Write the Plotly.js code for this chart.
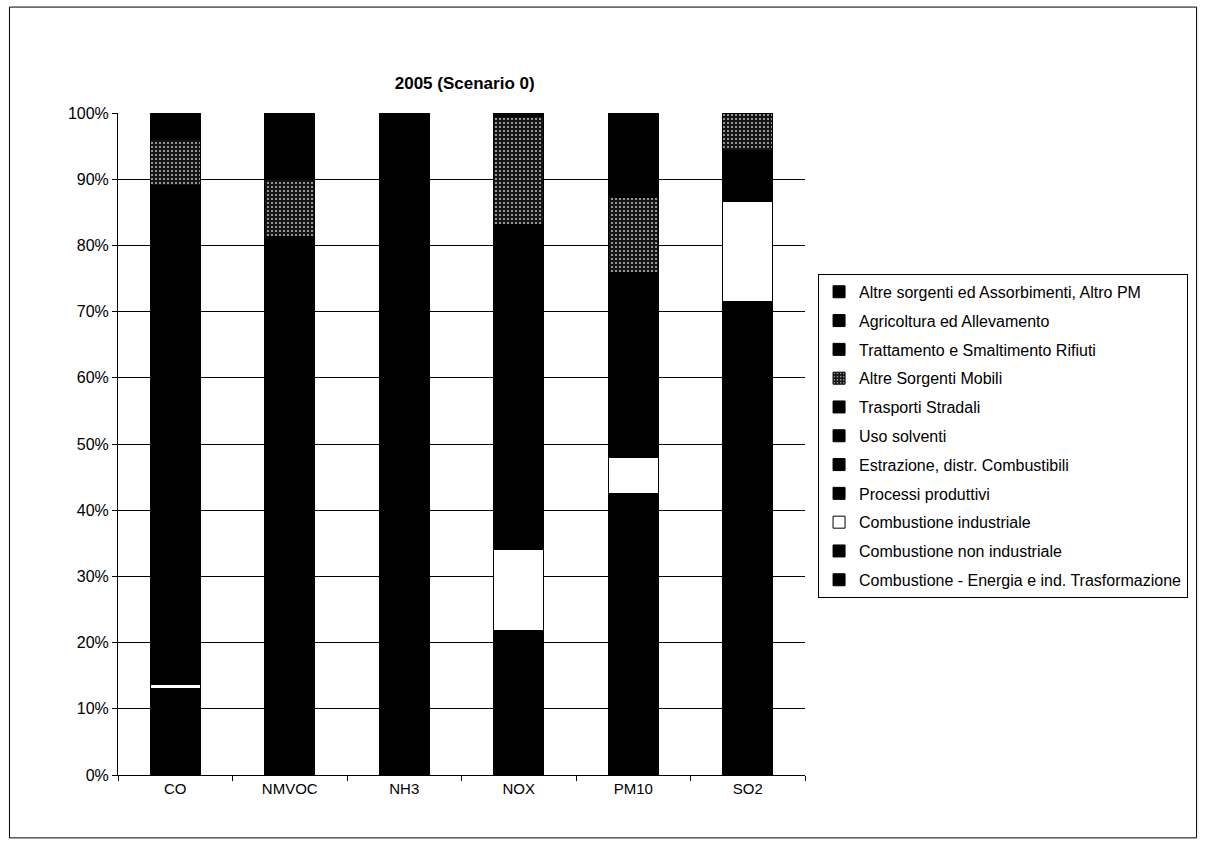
<!DOCTYPE html>
<html>
<head>
<meta charset="utf-8">
<script src="https://cdn.plot.ly/plotly-3.0.1.min.js"></script>
<style>
html,body{margin:0;padding:0;background:#fff;}
#chart{width:1207px;height:843px;}
</style>
</head>
<body>
<div id="chart"></div>
<script>
// Categories (pollutants)
const categories = ["CO", "NMVOC", "NH3", "NOX", "PM10", "SO2"];

// Series values (% share per pollutant), bottom to top of the stack
const energia      = [1.0,  0.5, 0.1, 13.0,  5.0, 65.0];  // Combustione - Energia e ind. Trasformazione
const nonInd       = [12.0, 5.3, 0.6,  8.8, 37.5,  6.5];  // Combustione non industriale
const industriale  = [0.6,  0.0, 0.0, 12.3,  5.4, 15.1];  // Combustione industriale
const processi     = [5.0,  4.0, 0.5,  2.0,  8.0,  7.4];  // Processi produttivi
const estrazione   = [0.0,  3.0, 0.0,  0.0,  0.2,  0.0];  // Estrazione, distr. Combustibili
const solventi     = [0.0, 40.0, 0.0,  0.0,  0.3,  0.0];  // Uso solventi
const stradali     = [70.4,28.5, 4.0, 47.0, 19.5,  0.4];  // Trasporti Stradali
const altreMobili  = [7.0,  8.6, 0.0, 16.4, 11.3,  5.6];  // Altre Sorgenti Mobili
const rifiuti      = [1.0,  0.5, 0.5,  0.2,  1.0,  0.0];  // Trattamento e Smaltimento Rifiuti
const agricoltura  = [0.5,  0.2,94.0,  0.1,  6.0,  0.0];  // Agricoltura ed Allevamento
const altre        = [2.5,  9.4, 0.3,  0.2,  5.8,  0.0];  // Altre sorgenti ed Assorbimenti, Altro PM

const seriesNames = [
  "Combustione - Energia e ind. Trasformazione",
  "Combustione non industriale",
  "Combustione industriale",
  "Processi produttivi",
  "Estrazione, distr. Combustibili",
  "Uso solventi",
  "Trasporti Stradali",
  "Altre Sorgenti Mobili",
  "Trattamento e Smaltimento Rifiuti",
  "Agricoltura ed Allevamento",
  "Altre sorgenti ed Assorbimenti, Altro PM"
];
const seriesValues = [energia, nonInd, industriale, processi, estrazione, solventi,
                      stradali, altreMobili, rifiuti, agricoltura, altre];

const traces = seriesNames.map((name, i) => {
  const marker = {color: "#000", line: {color: "#000", width: 1}};
  if (name === "Combustione industriale") {
    marker.color = "#fff";
  }
  if (name === "Altre Sorgenti Mobili") {
    marker.color = "#1a1a1a";
    marker.pattern = {shape: ".", bgcolor: "#151515", fgcolor: "#bdbdbd", size: 4, solidity: 0.2};
  }
  return {
    type: "bar",
    name: name,
    x: categories,
    y: seriesValues[i],
    marker: marker,
    legendgroup: "g" + i,
    legendrank: 100 - i,
    hoverinfo: "name+y"
  };
});

const layout = {
  width: 1207,
  height: 843,
  barmode: "stack",
  barnorm: "percent",
  bargap: 0.565,
  paper_bgcolor: "#fff",
  plot_bgcolor: "#fff",
  font: {family: "Liberation Sans, Arial, sans-serif", color: "#000", size: 15},
  margin: {l: 118, r: 402, t: 113, b: 68},
  title: {
    text: "<b>2005 (Scenario 0)</b>",
    font: {size: 17, family: "Liberation Sans, Arial, sans-serif", color: "#000"},
    x: 0.385, xanchor: "center",
    y: 0.902, yanchor: "middle"
  },
  xaxis: {
    type: "category",
    showline: true, linecolor: "#000", linewidth: 1,
    ticks: "outside", tickson: "boundaries", ticklen: 5, tickcolor: "#000",
    tickfont: {size: 15},
    showgrid: false,
    zeroline: false
  },
  yaxis: {
    range: [0, 100],
    dtick: 10,
    ticksuffix: "%",
    showline: true, linecolor: "#000", linewidth: 1,
    ticks: "outside", ticklen: 5, tickcolor: "#000",
    showgrid: true, gridcolor: "#000", gridwidth: 1,
    zeroline: false,
    tickfont: {size: 16}
  },
  legend: {
    x: 1.019, xanchor: "left",
    y: 0.757, yanchor: "top",
    traceorder: "grouped",
    tracegroupgap: 5,
    bordercolor: "#000", borderwidth: 1,
    bgcolor: "#fff",
    itemwidth: 30,
    font: {size: 16, family: "Liberation Sans, Arial, sans-serif"}
  },
  shapes: [
    {type: "rect", xref: "paper", yref: "paper",
     x0: -0.158, x1: 1.57, y0: -0.095, y1: 1.16,
     line: {color: "#000", width: 1}, fillcolor: "rgba(0,0,0,0)"}
  ],
  showlegend: true
};

Plotly.newPlot("chart", traces, layout, {displayModeBar: false, staticPlot: true});
</script>
</body>
</html>
